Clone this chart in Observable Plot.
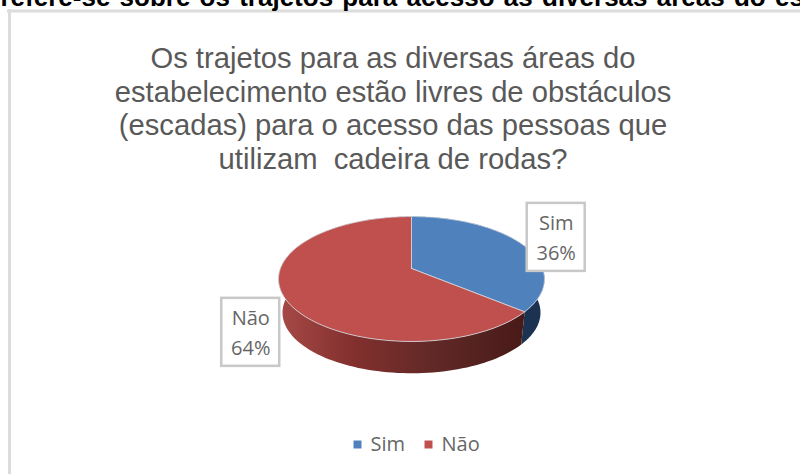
<!DOCTYPE html>
<html><head><meta charset="utf-8">
<script src="https://cdn.jsdelivr.net/npm/d3@7"></script>
<script src="https://cdn.jsdelivr.net/npm/@observablehq/plot@0.6"></script>
<style>html,body{margin:0;padding:0;background:#fff;overflow:hidden}svg{display:block}.hdr text{word-spacing:2px}</style>
</head><body><div id="chart"></div>
<script>
const categories = ["Sim", "Não"];
const shares = [36, 64];
const faceColors = ["#4f81bd", "#c0504d"];
const titleLines = ["Os trajetos para as diversas áreas do","estabelecimento estão livres de obstáculos","(escadas) para o acesso das pessoas que","utilizam  cadeira de rodas?"];
const headerText = "refere-se sobre os trajetos para acesso às diversas áreas do estabelecimento";

const W = 800, H = 474, k = 0.168, cx = 411, cy = 268, a = 131.1, b = 60.7;
const drop = 34/60.7, shrink = 0.97;
const proj = (t, s = 1, d = 0) => {
  const u = Math.sin(t), v = -Math.cos(t), w = 1 - k * v;
  return {x: s * u / w, y: s * v / w + d};
};
const total = d3.sum(shares);
let acc = 0;
const slices = categories.map((name, i) => {
  const t0 = acc / total * 2 * Math.PI; acc += shares[i];
  const t1 = acc / total * 2 * Math.PI;
  return {name, share: shares[i], t0, t1, mid: (t0 + t1) / 2, i};
});
const arc = (s, scale = 1, d = 0, n = 120) =>
  d3.range(n + 1).map(j => proj(s.t0 + (s.t1 - s.t0) * j / n, scale, d));
const face = slices.flatMap(s => [{...proj(0, 0), name: s.name}, ...arc(s).map(p => ({...p, name: s.name})), {...proj(0, 0), name: s.name}]);
const side = slices.flatMap(s => [...arc(s), ...arc(s, shrink, drop).reverse()].map(p => ({...p, name: s.name})));
const fillOf = d => faceColors[categories.indexOf(d.name)];
const sideFill = d => d.name === "Sim" ? "url(#sideB)" : "url(#sideR)";
const anchors = slices.map(s => ({...proj(s.mid), name: s.name, label: `${s.name}\n${Math.round(s.share)}%`}));
const off = {"Sim": [34, -7], "Não": [-33, 36]};
const defs = () => {
  const s = d3.create("svg:defs");
  const add = (id, stops) => {
    const g = s.append("linearGradient").attr("id", id).attr("x1", 0).attr("x2", 1).attr("y1", 0).attr("y2", 0);
    stops.forEach(([o, c]) => g.append("stop").attr("offset", o).attr("stop-color", c));
  };
  add("sideR", [[0, "#a64a47"], [0.3, "#83302e"], [0.65, "#5f2826"], [1, "#481a18"]]);
  add("sideB", [[0, "#1b3350"], [1, "#1b3350"]]);
  return s.node();
};
const font = "'Open Sans', sans-serif";
const rowText = categories.map((name, i) => ({name, i}));
const plot = Plot.plot({
  width: W, height: H, margin: 0,
  x: {domain: [-1, 1], range: [cx - a, cx + a], axis: null},
  y: {domain: [-1, 1], range: [cy - b, cy + b], axis: null},
  style: {background: "#fff"},
  marks: [
    defs,
    Plot.frame({anchor: "left", stroke: "#dcdcdc", strokeWidth: 3, insetLeft: 9, insetTop: 10}),
    Plot.frame({anchor: "top", stroke: "#dcdcdc", strokeWidth: 3, insetTop: 10.5, insetLeft: 8}),
    Plot.text([headerText], {frameAnchor: "top-left", text: d => d, className: "hdr", fontFamily: "'Liberation Sans'", fontWeight: "bold", fontSize: 26, fill: "#000", textAnchor: "start", lineAnchor: "bottom", dx: 0, dy: 5}),
    Plot.text([titleLines.join("\n")], {frameAnchor: "top", text: d => d, fontFamily: "'Liberation Sans'", fontSize: 29.2, lineHeight: 1.147, fill: "#595959", dx: -7.5, dy: 44, lineAnchor: "top"}),
    Plot.line(side, {x: "x", y: "y", z: "name", fill: sideFill, stroke: "none"}),
    Plot.line(face, {x: "x", y: "y", z: "name", fill: fillOf, stroke: "#d3d9e3", strokeWidth: 0.8}),
    ...anchors.map(d => Plot.rect([d], {x1: "x", x2: "x", y1: "y", y2: "y", fill: "#fff", stroke: "#c8c8c8", strokeWidth: 2.5, insetLeft: -29, insetRight: -29, insetTop: -34, insetBottom: -34, dx: off[d.name][0], dy: off[d.name][1]})),
    ...anchors.map(d => Plot.text([d], {x: "x", y: "y", text: "label", fontFamily: font, fontSize: 20, lineHeight: 1.5, fill: "#666", dx: off[d.name][0], dy: off[d.name][1] - 2})),
    ...rowText.map(d => Plot.dot([d], {frameAnchor: "bottom", symbol: "square", r: 4.5, fill: faceColors[d.i], dx: d.i ? 28 : -43, dy: -30})),
    ...rowText.map(d => Plot.text([d], {frameAnchor: "bottom", text: "name", fontFamily: font, fontSize: 20, fill: "#666", textAnchor: "start", lineAnchor: "middle", dx: d.i ? 41 : -30, dy: -30}))
  ]
});
document.getElementById("chart").append(plot);
</script></body></html>
